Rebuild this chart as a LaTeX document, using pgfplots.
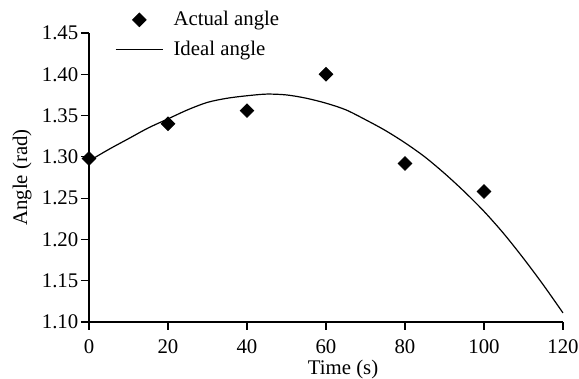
\documentclass[border=0pt]{standalone}
\usepackage{fontspec}
\setmainfont{Liberation Serif}
\usepackage{pgfplots}
\pgfplotsset{compat=1.18}
\pgfplotsset{
  markleg/.style={legend image code/.code={\path[draw=none] (0cm,0cm) -- (0.83cm,0cm);\draw[##1] plot coordinates {(0.415cm,0cm)};}},
  lineleg/.style={legend image code/.code={\draw[##1] (0cm,0cm) -- (0.83cm,0cm);}},
}
\begin{document}
\fontsize{10.4}{12.5}\selectfont
\begin{tikzpicture}
\begin{axis}[
  scale only axis,
  width=237pt, height=144.5pt,
  xmin=0, xmax=120, ymin=1.10, ymax=1.45,
  axis x line*=bottom, axis y line*=left,
  axis line style={line width=0.6pt, -},
  tick align=outside,
  major tick length=4pt,
  tick style={line width=0.6pt, black},
  xtick={0,20,...,120},
  ytick={1.10,1.15,...,1.45},
  /pgf/number format/assume math mode=true,
  yticklabel style={/pgf/number format/.cd, fixed, fixed zerofill, precision=2, /tikz/.cd, xshift=2.3pt},
  xticklabel style={yshift=-1pt},
  ticklabel style={font=\fontsize{10.4}{12.5}\selectfont},
  label style={font=\fontsize{10.4}{12.5}\selectfont},
  xlabel={Time (s)},
  ylabel={Angle (rad)},
  xlabel style={at={(axis description cs:0.536,-0.165)}, anchor=center},
  ylabel style={at={(axis description cs:-0.141,0.5)}, anchor=center},
  clip=false,
  legend style={draw=none, fill=none, at={(axis description cs:0.05,1.098)}, anchor=north west,
    font=\fontsize{10.4}{12.5}\selectfont, row sep=2pt, inner sep=1pt,
    /tikz/every odd column/.append style={column sep=3pt}},
  legend cell align=left,
]
\addplot[only marks, mark=square*, mark size=2.4pt, mark options={rotate=45, fill=black, draw=black}, markleg]
  coordinates {(0,1.298) (20,1.340) (40,1.356) (60,1.400) (80,1.292) (100,1.258)};
\addlegendentry{Actual angle}
\addplot[black, line width=0.6pt, smooth, no marks, lineleg]
  coordinates {(0,1.295) (5,1.309) (10,1.322) (15,1.335) (20,1.346) (25,1.357) (30,1.366) (35,1.371) (40,1.374) (45,1.376) (50,1.375) (55,1.371) (60,1.365) (65,1.357) (70,1.345) (75,1.332) (80,1.317) (85,1.300) (90,1.280) (95,1.258) (100,1.234) (105,1.207) (110,1.177) (115,1.145) (120,1.111)};
\addlegendentry{Ideal angle}
\coordinate (bl) at (rel axis cs:-0.18776,-0.19723);
\coordinate (tr) at (rel axis cs:1.03376,1.11419);
\end{axis}
\pgfresetboundingbox
\path (bl) rectangle (tr);
\end{tikzpicture}
\end{document}
